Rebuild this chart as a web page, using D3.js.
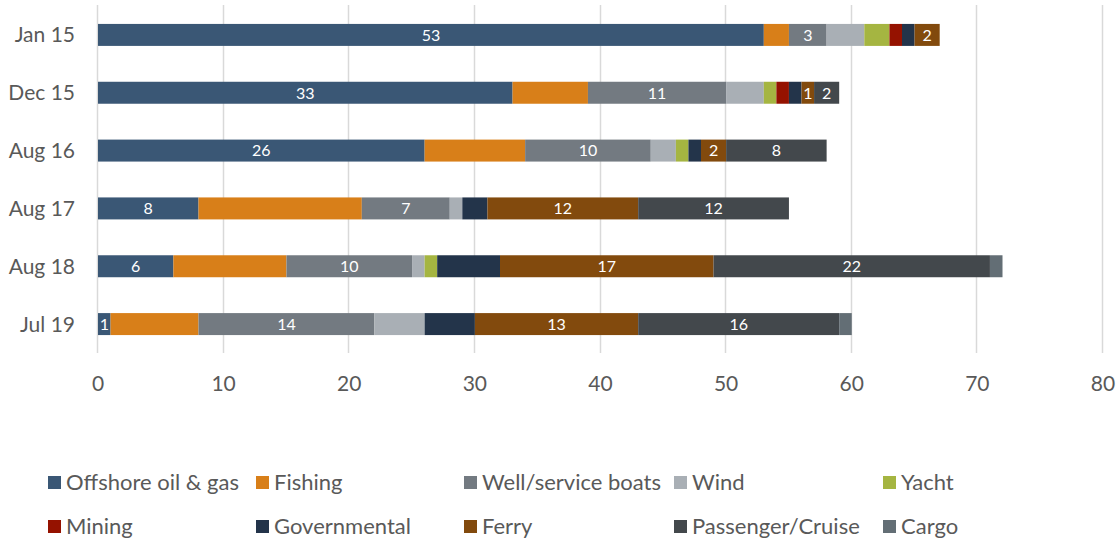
<!DOCTYPE html>
<html>
<head>
<meta charset="utf-8">
<title>Vessel types</title>
<script src="https://d3js.org/d3.v7.min.js"></script>
<style>
  body { margin: 0; background: #fff; font-family: Lato, "Open Sans", sans-serif; }
</style>
</head>
<body>
<svg id="chart" width="1118" height="543"></svg>
<script>
// categories (top to bottom)
var periods = ["Jan 15", "Dec 15", "Aug 16", "Aug 17", "Aug 18", "Jul 19"];
var seriesNames = ["Offshore oil & gas", "Fishing", "Well/service boats", "Wind", "Yacht",
                   "Mining", "Governmental", "Ferry", "Passenger/Cruise", "Cargo"];
var seriesColors = ["#3a5775", "#d87f19", "#737a81", "#a9afb5", "#a5b541",
                    "#951200", "#23344a", "#824a0d", "#43484c", "#636e75"];
// which series carry data labels
var labelled = ["Offshore oil & gas", "Well/service boats", "Ferry", "Passenger/Cruise"];

// values per series, in order of periods
var offshore     = [53, 33, 26, 8, 6, 1];
var fishing      = [2, 6, 8, 13, 9, 7];
var wellService  = [3, 11, 10, 7, 10, 14];
var wind         = [3, 3, 2, 1, 1, 4];
var yacht        = [2, 1, 1, 0, 1, 0];
var mining       = [1, 1, 0, 0, 0, 0];
var governmental = [1, 1, 1, 2, 5, 4];
var ferry        = [2, 1, 2, 12, 17, 13];
var passenger    = [0, 2, 8, 12, 22, 16];
var cargo        = [0, 0, 0, 0, 1, 1];
var xTicks = [0, 10, 20, 30, 40, 50, 60, 70, 80];

var values = [offshore, fishing, wellService, wind, yacht, mining, governmental, ferry, passenger, cargo];

var rows = periods.map(function(p, i) {
  var r = { period: p };
  seriesNames.forEach(function(s, j) { r[s] = values[j][i]; });
  return r;
});

var margin = { top: 6, left: 98 },
    height = 347;

var svg = d3.select("#chart");
var g = svg.append("g").attr("transform", "translate(" + margin.left + "," + margin.top + ")");

var x = d3.scaleLinear().domain([0, 80]).range([0, 1005]);
var y = d3.scaleBand().domain(periods).range([0, height]).paddingInner(0.62).paddingOuter(0.31);

// gridlines
g.append("g").selectAll("line").data(xTicks).enter().append("line")
  .attr("x1", function(d) { return Math.round(x(d)) - 0.5; })
  .attr("x2", function(d) { return Math.round(x(d)) - 0.5; })
  .attr("y1", -1).attr("y2", height)
  .attr("stroke", "#d9d9d9").attr("stroke-width", 1.5);

var stack = d3.stack().keys(seriesNames)(rows);

var layer = g.selectAll(".layer").data(stack).enter().append("g")
  .attr("class", "layer")
  .attr("fill", function(d, i) { return seriesColors[i]; });

layer.selectAll("rect").data(function(d) { return d; }).enter().append("rect")
  .attr("x", function(d) { return x(d[0]); })
  .attr("width", function(d) { return x(d[1]) - x(d[0]); })
  .attr("y", function(d) { return y(d.data.period); })
  .attr("height", y.bandwidth());

// data labels
layer.filter(function(d) { return labelled.indexOf(d.key) >= 0; })
  .selectAll("text").data(function(d) { return d.filter(function(e) { return e[1] - e[0] > 0; }); })
  .enter().append("text")
  .attr("x", function(d) { return (x(d[0]) + x(d[1])) / 2; })
  .attr("y", function(d) { return y(d.data.period) + y.bandwidth() / 2; })
  .attr("dy", "0.36em")
  .attr("text-anchor", "middle")
  .attr("fill", "#fff")
  .style("font-size", "16px")
  .text(function(d) { return d[1] - d[0]; });

// x axis labels
g.append("g").selectAll("text").data(xTicks).enter().append("text")
  .attr("x", function(d) { return x(d); })
  .attr("y", 383 - margin.top)
  .attr("dy", "0.36em")
  .attr("text-anchor", "middle")
  .attr("fill", "#595959")
  .style("font-size", "21px")
  .text(function(d) { return d; });

// y axis labels
g.append("g").selectAll("text").data(periods).enter().append("text")
  .attr("x", -23)
  .attr("y", function(d) { return y(d) + y.bandwidth() / 2; })
  .attr("dy", "0.36em")
  .attr("text-anchor", "end")
  .attr("fill", "#595959")
  .style("font-size", "21px")
  .text(function(d) { return d; });

// legend
var legendX = [48, 256, 464, 674, 883];
var legendY = [482, 526];
var legend = svg.append("g").selectAll("g").data(seriesNames).enter().append("g")
  .attr("transform", function(d, i) {
    return "translate(" + legendX[i % 5] + "," + legendY[Math.floor(i / 5)] + ")";
  });
legend.append("rect")
  .attr("x", 0).attr("y", -6).attr("width", 13).attr("height", 13)
  .attr("fill", function(d, i) { return seriesColors[i]; });
legend.append("text")
  .attr("x", 18).attr("dy", "0.36em")
  .attr("fill", "#595959")
  .style("font-size", "22px")
  .text(function(d) { return d; });
</script>
</body>
</html>
